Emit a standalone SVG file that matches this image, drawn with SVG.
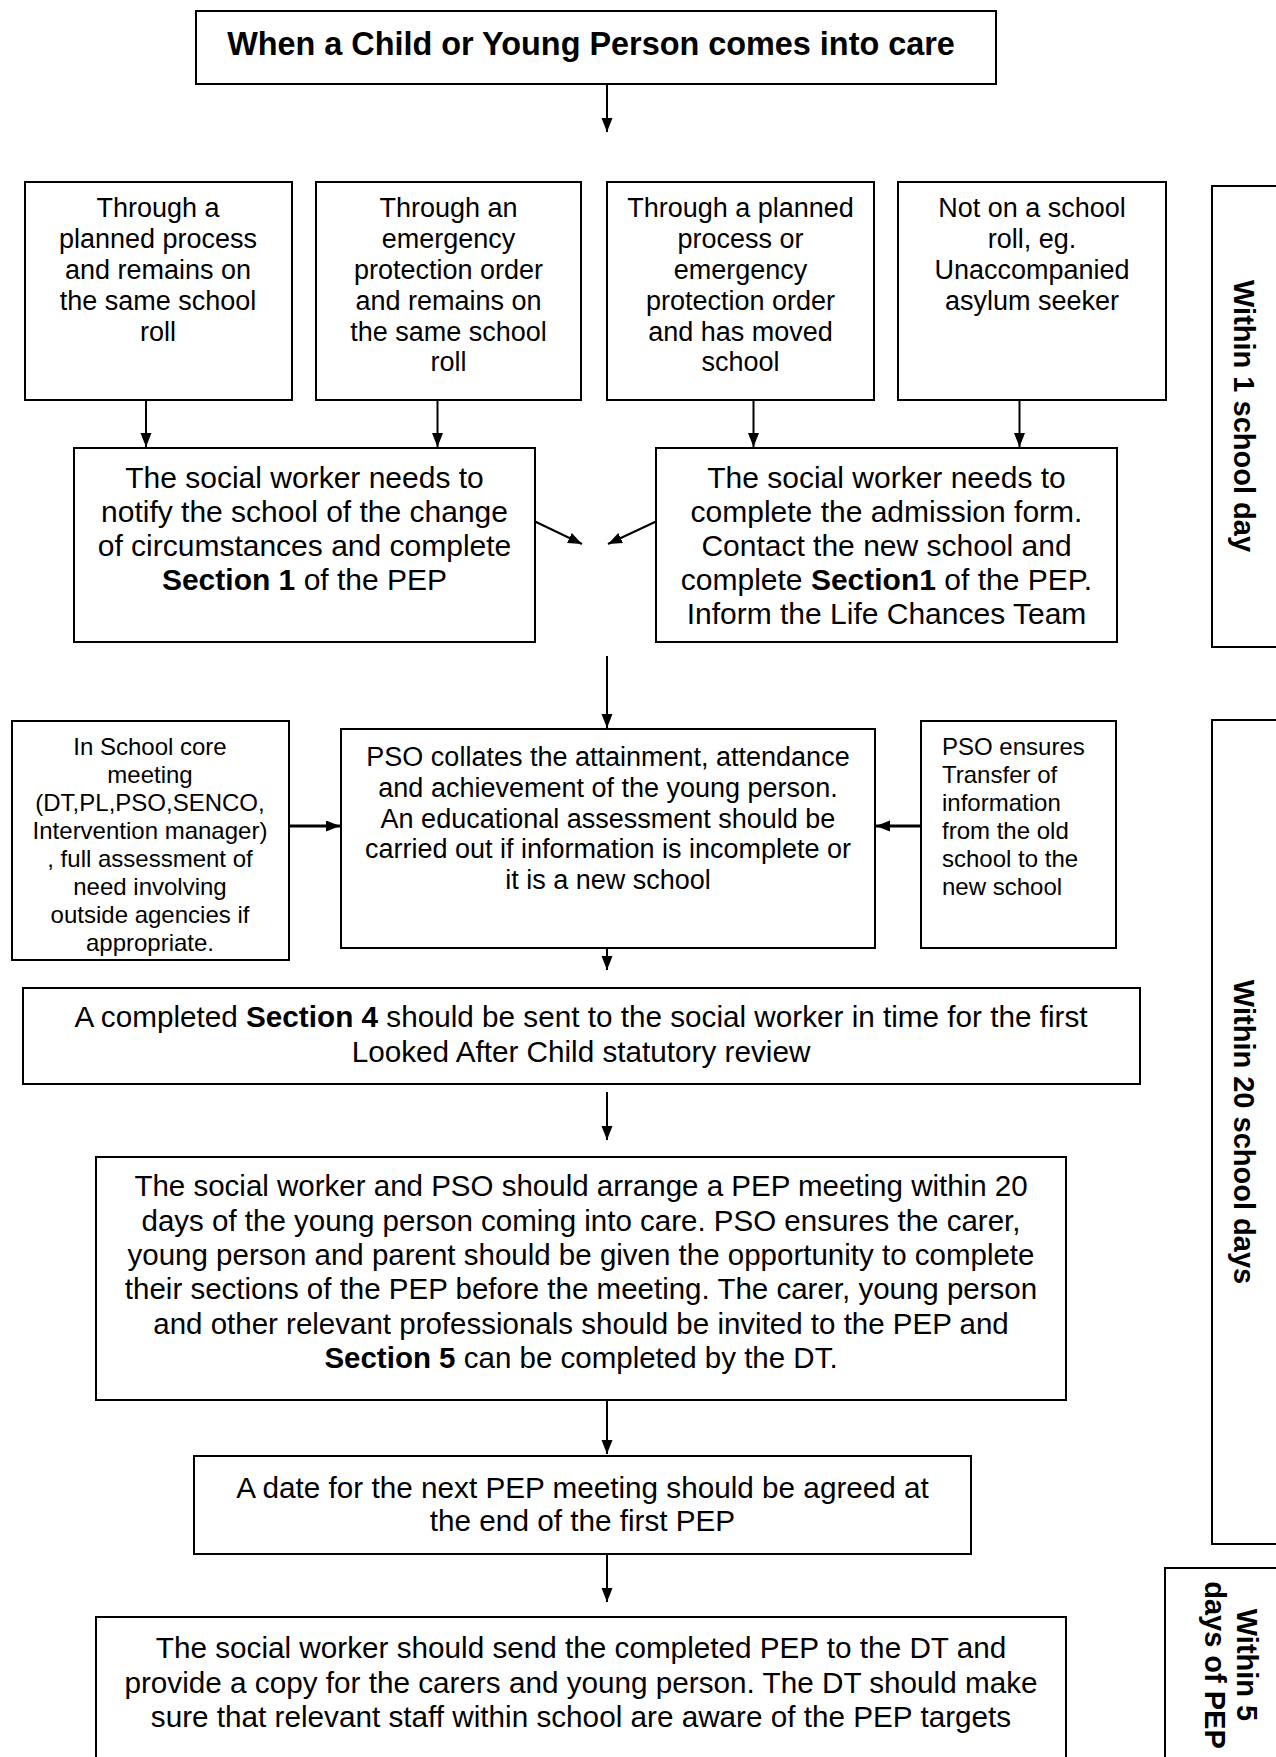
<svg xmlns="http://www.w3.org/2000/svg" width="1276" height="1757" viewBox="0 0 1276 1757">
<defs>
<style>
.box{fill:#fff;stroke:#000;stroke-width:2}
.t{font-family:"Liberation Sans",Arial,sans-serif;fill:#000;text-anchor:middle}
.s27{font-size:27px}
.s30{font-size:29.7px}
.s24{font-size:24px}
.lab{font-family:"Liberation Sans",Arial,sans-serif;font-weight:bold;font-size:29px;text-anchor:middle;fill:#000}
.con{stroke:#000;stroke-width:2;fill:none}
.thick{stroke-width:3}
</style>
<marker id="ah" markerUnits="userSpaceOnUse" markerWidth="15" markerHeight="12" refX="14" refY="5.5" orient="auto">
<path d="M0,0 L14,5.5 L0,11 z" fill="#000"/>
</marker>
<clipPath id="clipL"><rect x="12" y="721" width="276" height="235"/></clipPath>
</defs>

<g id="title">
<rect class="box" x="196" y="11" width="800" height="73"/>
<text class="t" x="591" y="55" font-size="32.4" font-weight="bold">When a Child or Young Person comes into care</text>
</g>

<g id="box-planned">
<rect class="box" x="25" y="182" width="267" height="218"/>
<text class="t s27"><tspan x="158" y="217">Through a</tspan><tspan x="158" y="248">planned process</tspan><tspan x="158" y="279">and remains on</tspan><tspan x="158" y="310">the same school</tspan><tspan x="158" y="341">roll</tspan></text>
</g>

<g id="box-emergency">
<rect class="box" x="316" y="182" width="265" height="218"/>
<text class="t s27"><tspan x="448.5" y="217">Through an</tspan><tspan x="448.5" y="248">emergency</tspan><tspan x="448.5" y="279">protection order</tspan><tspan x="448.5" y="310">and remains on</tspan><tspan x="448.5" y="341">the same school</tspan><tspan x="448.5" y="371">roll</tspan></text>
</g>

<g id="box-moved">
<rect class="box" x="607" y="182" width="267" height="218"/>
<text class="t s27"><tspan x="740.5" y="217">Through a planned</tspan><tspan x="740.5" y="248">process or</tspan><tspan x="740.5" y="279">emergency</tspan><tspan x="740.5" y="310">protection order</tspan><tspan x="740.5" y="341">and has moved</tspan><tspan x="740.5" y="371">school</tspan></text>
</g>

<g id="box-notroll">
<rect class="box" x="898" y="182" width="268" height="218"/>
<text class="t s27"><tspan x="1032" y="217">Not on a school</tspan><tspan x="1032" y="248">roll, eg.</tspan><tspan x="1032" y="279">Unaccompanied</tspan><tspan x="1032" y="310">asylum seeker</tspan></text>
</g>

<g id="box-notify">
<rect class="box" x="74" y="448" width="461" height="194"/>
<text class="t" font-size="30"><tspan x="304.5" y="488">The social worker needs to</tspan><tspan x="304.5" y="522">notify the school of the change</tspan><tspan x="304.5" y="556">of circumstances and complete</tspan><tspan x="304.5" y="590"><tspan font-weight="bold">Section 1</tspan> of the PEP</tspan></text>
</g>

<g id="box-admission">
<rect class="box" x="656" y="448" width="461" height="194"/>
<text class="t" font-size="30"><tspan x="886.5" y="488">The social worker needs to</tspan><tspan x="886.5" y="522">complete the admission form.</tspan><tspan x="886.5" y="556">Contact the new school and</tspan><tspan x="886.5" y="590">complete <tspan font-weight="bold">Section1</tspan> of the PEP.</tspan><tspan x="886.5" y="624">Inform the Life Chances Team</tspan></text>
</g>

<g id="box-core">
<rect class="box" x="12" y="721" width="277" height="239"/>
<text class="t s24" clip-path="url(#clipL)"><tspan x="150" y="755">In School core</tspan><tspan x="150" y="783">meeting</tspan><tspan x="150" y="811">(DT,PL,PSO,SENCO,</tspan><tspan x="150" y="839">Intervention manager)</tspan><tspan x="150" y="867">, full assessment of</tspan><tspan x="150" y="895">need involving</tspan><tspan x="150" y="923">outside agencies if</tspan><tspan x="150" y="951">appropriate.</tspan></text>
</g>

<g id="box-collates">
<rect class="box" x="341" y="729" width="534" height="219"/>
<text class="t s27"><tspan x="608" y="766">PSO collates the attainment, attendance</tspan><tspan x="608" y="797">and achievement of the young person.</tspan><tspan x="608" y="828">An educational assessment should be</tspan><tspan x="608" y="858">carried out if information is incomplete or</tspan><tspan x="608" y="889">it is a new school</tspan></text>
</g>

<g id="box-transfer">
<rect class="box" x="921" y="721" width="195" height="227"/>
<text class="t s24" style="text-anchor:start"><tspan x="942" y="755">PSO ensures</tspan><tspan x="942" y="783">Transfer of</tspan><tspan x="942" y="811">information</tspan><tspan x="942" y="839">from the old</tspan><tspan x="942" y="867">school to the</tspan><tspan x="942" y="895">new school</tspan></text>
</g>

<g id="box-section4">
<rect class="box" x="23" y="988" width="1117" height="96"/>
<text class="t s30"><tspan x="581" y="1027">A completed <tspan font-weight="bold">Section 4</tspan> should be sent to the social worker in time for the first</tspan><tspan x="581" y="1062">Looked After Child statutory review</tspan></text>
</g>

<g id="box-pepmeeting">
<rect class="box" x="96" y="1157" width="970" height="243"/>
<text class="t" font-size="29.5"><tspan x="581" y="1196">The social worker and PSO should arrange a PEP meeting within 20</tspan><tspan x="581" y="1231">days of the young person coming into care. PSO ensures the carer,</tspan><tspan x="581" y="1265">young person and parent should be given the opportunity to complete</tspan><tspan x="581" y="1299">their sections of the PEP before the meeting. The carer, young person</tspan><tspan x="581" y="1334">and other relevant professionals should be invited to the PEP and</tspan><tspan x="581" y="1368"><tspan font-weight="bold">Section 5</tspan> can be completed by the DT.</tspan></text>
</g>

<g id="box-nextdate">
<rect class="box" x="194" y="1456" width="777" height="98"/>
<text class="t s30"><tspan x="582.5" y="1498">A date for the next PEP meeting should be agreed at</tspan><tspan x="582.5" y="1531">the end of the first PEP</tspan></text>
</g>

<g id="box-send">
<rect class="box" x="96" y="1617" width="970" height="200"/>
<text class="t s30"><tspan x="581" y="1658">The social worker should send the completed PEP to the DT and</tspan><tspan x="581" y="1693">provide a copy for the carers and young person. The DT should make</tspan><tspan x="581" y="1727">sure that relevant staff within school are aware of the PEP targets</tspan></text>
</g>

<g id="label-1day">
<rect class="box" x="1212" y="186" width="90" height="461"/>
<text class="lab" transform="translate(1244,416) rotate(90)" x="0" y="10">Within 1 school day</text>
</g>

<g id="label-20days">
<rect class="box" x="1212" y="720" width="90" height="824"/>
<text class="lab" transform="translate(1244,1132) rotate(90)" x="0" y="10">Within 20 school days</text>
</g>

<g id="label-5days">
<rect class="box" x="1165" y="1568" width="140" height="240"/>
<text class="lab" transform="translate(1231,1665) rotate(90)"><tspan x="0" y="-6">Within 5</tspan><tspan x="0" y="26">days of PEP</tspan></text>
</g>

<g id="connectors">
<line class="con" x1="607" y1="84" x2="607" y2="132" marker-end="url(#ah)"/>
<line class="con" x1="146" y1="400" x2="146" y2="447" marker-end="url(#ah)"/>
<line class="con" x1="437.5" y1="400" x2="437.5" y2="447" marker-end="url(#ah)"/>
<line class="con" x1="753.5" y1="400" x2="753.5" y2="447" marker-end="url(#ah)"/>
<line class="con" x1="1019.5" y1="400" x2="1019.5" y2="447" marker-end="url(#ah)"/>
<line class="con" x1="535" y1="521.5" x2="582" y2="544" marker-end="url(#ah)"/>
<line class="con" x1="656" y1="521.5" x2="608" y2="544" marker-end="url(#ah)"/>
<line class="con" x1="607" y1="656" x2="607" y2="728" marker-end="url(#ah)"/>
<line class="con thick" x1="289" y1="826" x2="340" y2="826" marker-end="url(#ah)"/>
<line class="con thick" x1="921" y1="826" x2="876" y2="826" marker-end="url(#ah)"/>
<line class="con" x1="607" y1="948" x2="607" y2="970" marker-end="url(#ah)"/>
<line class="con" x1="607" y1="1092" x2="607" y2="1140" marker-end="url(#ah)"/>
<line class="con" x1="607" y1="1401" x2="607" y2="1454" marker-end="url(#ah)"/>
<line class="con" x1="607" y1="1554" x2="607" y2="1602" marker-end="url(#ah)"/>
</g>
</svg>
